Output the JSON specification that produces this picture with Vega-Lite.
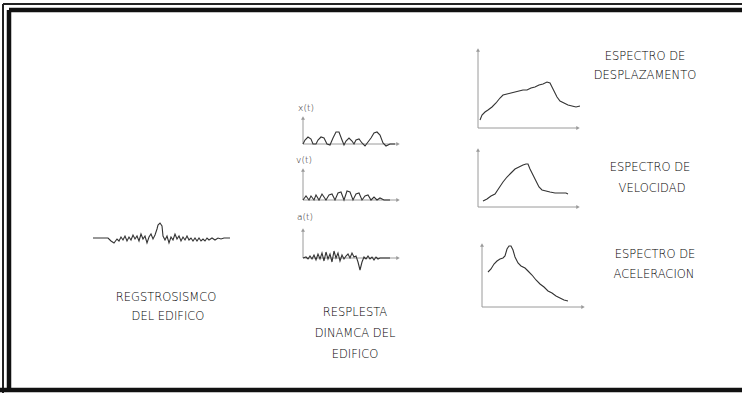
{
  "$schema": "https://vega.github.io/schema/vega-lite/v6.json",
  "width": 742,
  "height": 393,
  "autosize": "none",
  "padding": 0,
  "background": "white",
  "config": {"view": {"stroke": null}},
  "datasets": {
    "frame_thick": [
      {"x": 9, "y": 10, "x2": 742, "y2": 10},
      {"x": 9, "y": 10, "x2": 9, "y2": 390},
      {"x": 0, "y": 390, "x2": 742, "y2": 390}
    ],
    "frame_thin": [
      {"x": 3, "y": 4, "x2": 3, "y2": 393},
      {"x": 3, "y": 4, "x2": 742, "y2": 4}
    ],
    "axes": [
      {"x": 303, "y": 118, "x2": 303, "y2": 144},
      {"x": 303, "y": 144, "x2": 398, "y2": 144},
      {"x": 303, "y": 170, "x2": 303, "y2": 200},
      {"x": 303, "y": 200, "x2": 398, "y2": 200},
      {"x": 303, "y": 230, "x2": 303, "y2": 258},
      {"x": 303, "y": 258, "x2": 398, "y2": 258},
      {"x": 478, "y": 50, "x2": 478, "y2": 128},
      {"x": 478, "y": 128, "x2": 578, "y2": 128},
      {"x": 478, "y": 150, "x2": 478, "y2": 207},
      {"x": 478, "y": 207, "x2": 578, "y2": 207},
      {"x": 482, "y": 245, "x2": 482, "y2": 307},
      {"x": 482, "y": 307, "x2": 583, "y2": 307}
    ],
    "arrows": [
      {"x": 303, "y": 118, "dir": "up"}, {"x": 398, "y": 144, "dir": "right"},
      {"x": 303, "y": 170, "dir": "up"}, {"x": 398, "y": 200, "dir": "right"},
      {"x": 303, "y": 230, "dir": "up"}, {"x": 398, "y": 258, "dir": "right"},
      {"x": 478, "y": 50, "dir": "up"}, {"x": 578, "y": 128, "dir": "right"},
      {"x": 478, "y": 150, "dir": "up"}, {"x": 578, "y": 207, "dir": "right"},
      {"x": 482, "y": 245, "dir": "up"}, {"x": 583, "y": 307, "dir": "right"}
    ],
    "curves": [
      {"id": "s", "o": 1, "x": 93, "y": 238}, {"id": "s", "o": 2, "x": 108, "y": 238}, {"id": "s", "o": 3, "x": 111, "y": 241}, {"id": "s", "o": 4, "x": 114, "y": 243}, {"id": "s", "o": 5, "x": 117, "y": 239}, {"id": "s", "o": 6, "x": 119, "y": 241}, {"id": "s", "o": 7, "x": 121, "y": 237}, {"id": "s", "o": 8, "x": 123, "y": 240}, {"id": "s", "o": 9, "x": 125, "y": 236}, {"id": "s", "o": 10, "x": 127, "y": 241}, {"id": "s", "o": 11, "x": 129, "y": 237}, {"id": "s", "o": 12, "x": 131, "y": 240}, {"id": "s", "o": 13, "x": 133, "y": 235}, {"id": "s", "o": 14, "x": 135, "y": 239}, {"id": "s", "o": 15, "x": 137, "y": 236}, {"id": "s", "o": 16, "x": 139, "y": 241}, {"id": "s", "o": 17, "x": 141, "y": 234}, {"id": "s", "o": 18, "x": 143, "y": 239}, {"id": "s", "o": 19, "x": 145, "y": 236}, {"id": "s", "o": 20, "x": 147, "y": 243}, {"id": "s", "o": 21, "x": 149, "y": 237}, {"id": "s", "o": 22, "x": 151, "y": 234}, {"id": "s", "o": 23, "x": 153, "y": 239}, {"id": "s", "o": 24, "x": 155, "y": 235}, {"id": "s", "o": 25, "x": 157, "y": 229}, {"id": "s", "o": 26, "x": 158, "y": 225}, {"id": "s", "o": 27, "x": 160, "y": 223}, {"id": "s", "o": 28, "x": 162, "y": 226}, {"id": "s", "o": 29, "x": 163, "y": 236}, {"id": "s", "o": 30, "x": 165, "y": 240}, {"id": "s", "o": 31, "x": 167, "y": 236}, {"id": "s", "o": 32, "x": 169, "y": 243}, {"id": "s", "o": 33, "x": 171, "y": 237}, {"id": "s", "o": 34, "x": 173, "y": 240}, {"id": "s", "o": 35, "x": 175, "y": 234}, {"id": "s", "o": 36, "x": 177, "y": 239}, {"id": "s", "o": 37, "x": 179, "y": 236}, {"id": "s", "o": 38, "x": 181, "y": 241}, {"id": "s", "o": 39, "x": 183, "y": 237}, {"id": "s", "o": 40, "x": 185, "y": 240}, {"id": "s", "o": 41, "x": 187, "y": 236}, {"id": "s", "o": 42, "x": 189, "y": 240}, {"id": "s", "o": 43, "x": 191, "y": 238}, {"id": "s", "o": 44, "x": 193, "y": 241}, {"id": "s", "o": 45, "x": 195, "y": 238}, {"id": "s", "o": 46, "x": 197, "y": 241}, {"id": "s", "o": 47, "x": 199, "y": 238}, {"id": "s", "o": 48, "x": 201, "y": 241}, {"id": "s", "o": 49, "x": 203, "y": 239}, {"id": "s", "o": 50, "x": 205, "y": 241}, {"id": "s", "o": 51, "x": 207, "y": 238}, {"id": "s", "o": 52, "x": 209, "y": 240}, {"id": "s", "o": 53, "x": 212, "y": 238}, {"id": "s", "o": 54, "x": 215, "y": 240}, {"id": "s", "o": 55, "x": 218, "y": 238}, {"id": "s", "o": 56, "x": 221, "y": 239}, {"id": "s", "o": 57, "x": 224, "y": 238}, {"id": "s", "o": 58, "x": 230, "y": 238},

      {"id": "r1", "o": 1, "x": 303, "y": 144}, {"id": "r1", "o": 2, "x": 305, "y": 140}, {"id": "r1", "o": 3, "x": 308, "y": 137}, {"id": "r1", "o": 4, "x": 311, "y": 139}, {"id": "r1", "o": 5, "x": 313, "y": 144}, {"id": "r1", "o": 6, "x": 316, "y": 144}, {"id": "r1", "o": 7, "x": 318, "y": 140}, {"id": "r1", "o": 8, "x": 321, "y": 137}, {"id": "r1", "o": 9, "x": 324, "y": 138}, {"id": "r1", "o": 10, "x": 327, "y": 144}, {"id": "r1", "o": 11, "x": 330, "y": 145}, {"id": "r1", "o": 12, "x": 333, "y": 138}, {"id": "r1", "o": 13, "x": 336, "y": 132}, {"id": "r1", "o": 14, "x": 339, "y": 132}, {"id": "r1", "o": 15, "x": 342, "y": 140}, {"id": "r1", "o": 16, "x": 344, "y": 145}, {"id": "r1", "o": 17, "x": 346, "y": 141}, {"id": "r1", "o": 18, "x": 349, "y": 138}, {"id": "r1", "o": 19, "x": 352, "y": 141}, {"id": "r1", "o": 20, "x": 354, "y": 144}, {"id": "r1", "o": 21, "x": 356, "y": 140}, {"id": "r1", "o": 22, "x": 359, "y": 139}, {"id": "r1", "o": 23, "x": 362, "y": 143}, {"id": "r1", "o": 24, "x": 365, "y": 146}, {"id": "r1", "o": 25, "x": 368, "y": 142}, {"id": "r1", "o": 26, "x": 371, "y": 138}, {"id": "r1", "o": 27, "x": 374, "y": 133}, {"id": "r1", "o": 28, "x": 377, "y": 132}, {"id": "r1", "o": 29, "x": 380, "y": 135}, {"id": "r1", "o": 30, "x": 383, "y": 143}, {"id": "r1", "o": 31, "x": 386, "y": 146}, {"id": "r1", "o": 32, "x": 390, "y": 144}, {"id": "r1", "o": 33, "x": 395, "y": 144},

      {"id": "r2", "o": 1, "x": 303, "y": 200}, {"id": "r2", "o": 2, "x": 306, "y": 196}, {"id": "r2", "o": 3, "x": 309, "y": 200}, {"id": "r2", "o": 4, "x": 311, "y": 196}, {"id": "r2", "o": 5, "x": 314, "y": 200}, {"id": "r2", "o": 6, "x": 316, "y": 195}, {"id": "r2", "o": 7, "x": 319, "y": 200}, {"id": "r2", "o": 8, "x": 322, "y": 194}, {"id": "r2", "o": 9, "x": 326, "y": 200}, {"id": "r2", "o": 10, "x": 329, "y": 195}, {"id": "r2", "o": 11, "x": 332, "y": 194}, {"id": "r2", "o": 12, "x": 335, "y": 200}, {"id": "r2", "o": 13, "x": 338, "y": 193}, {"id": "r2", "o": 14, "x": 341, "y": 192}, {"id": "r2", "o": 15, "x": 344, "y": 200}, {"id": "r2", "o": 16, "x": 347, "y": 191}, {"id": "r2", "o": 17, "x": 350, "y": 192}, {"id": "r2", "o": 18, "x": 353, "y": 200}, {"id": "r2", "o": 19, "x": 356, "y": 194}, {"id": "r2", "o": 20, "x": 359, "y": 193}, {"id": "r2", "o": 21, "x": 362, "y": 200}, {"id": "r2", "o": 22, "x": 365, "y": 196}, {"id": "r2", "o": 23, "x": 368, "y": 195}, {"id": "r2", "o": 24, "x": 371, "y": 200}, {"id": "r2", "o": 25, "x": 374, "y": 197}, {"id": "r2", "o": 26, "x": 377, "y": 200}, {"id": "r2", "o": 27, "x": 380, "y": 198}, {"id": "r2", "o": 28, "x": 384, "y": 200}, {"id": "r2", "o": 29, "x": 390, "y": 200},

      {"id": "r3", "o": 1, "x": 303, "y": 258}, {"id": "r3", "o": 2, "x": 306, "y": 257}, {"id": "r3", "o": 3, "x": 308, "y": 259}, {"id": "r3", "o": 4, "x": 310, "y": 256}, {"id": "r3", "o": 5, "x": 312, "y": 259}, {"id": "r3", "o": 6, "x": 314, "y": 255}, {"id": "r3", "o": 7, "x": 316, "y": 260}, {"id": "r3", "o": 8, "x": 318, "y": 254}, {"id": "r3", "o": 9, "x": 320, "y": 259}, {"id": "r3", "o": 10, "x": 322, "y": 253}, {"id": "r3", "o": 11, "x": 324, "y": 261}, {"id": "r3", "o": 12, "x": 326, "y": 252}, {"id": "r3", "o": 13, "x": 328, "y": 259}, {"id": "r3", "o": 14, "x": 330, "y": 254}, {"id": "r3", "o": 15, "x": 332, "y": 262}, {"id": "r3", "o": 16, "x": 334, "y": 251}, {"id": "r3", "o": 17, "x": 336, "y": 258}, {"id": "r3", "o": 18, "x": 338, "y": 253}, {"id": "r3", "o": 19, "x": 340, "y": 261}, {"id": "r3", "o": 20, "x": 342, "y": 255}, {"id": "r3", "o": 21, "x": 344, "y": 259}, {"id": "r3", "o": 22, "x": 346, "y": 256}, {"id": "r3", "o": 23, "x": 348, "y": 254}, {"id": "r3", "o": 24, "x": 350, "y": 258}, {"id": "r3", "o": 25, "x": 352, "y": 253}, {"id": "r3", "o": 26, "x": 354, "y": 257}, {"id": "r3", "o": 27, "x": 356, "y": 256}, {"id": "r3", "o": 28, "x": 358, "y": 262}, {"id": "r3", "o": 29, "x": 360, "y": 270}, {"id": "r3", "o": 30, "x": 362, "y": 262}, {"id": "r3", "o": 31, "x": 364, "y": 257}, {"id": "r3", "o": 32, "x": 366, "y": 259}, {"id": "r3", "o": 33, "x": 368, "y": 256}, {"id": "r3", "o": 34, "x": 370, "y": 259}, {"id": "r3", "o": 35, "x": 372, "y": 257}, {"id": "r3", "o": 36, "x": 374, "y": 260}, {"id": "r3", "o": 37, "x": 376, "y": 257}, {"id": "r3", "o": 38, "x": 378, "y": 259}, {"id": "r3", "o": 39, "x": 380, "y": 258}, {"id": "r3", "o": 40, "x": 384, "y": 258}, {"id": "r3", "o": 41, "x": 390, "y": 258},

      {"id": "d", "o": 1, "x": 480, "y": 120}, {"id": "d", "o": 2, "x": 482, "y": 115}, {"id": "d", "o": 3, "x": 485, "y": 112}, {"id": "d", "o": 4, "x": 488, "y": 110}, {"id": "d", "o": 5, "x": 492, "y": 107}, {"id": "d", "o": 6, "x": 496, "y": 103}, {"id": "d", "o": 7, "x": 500, "y": 98}, {"id": "d", "o": 8, "x": 503, "y": 95}, {"id": "d", "o": 9, "x": 507, "y": 94}, {"id": "d", "o": 10, "x": 511, "y": 93}, {"id": "d", "o": 11, "x": 515, "y": 92}, {"id": "d", "o": 12, "x": 519, "y": 91}, {"id": "d", "o": 13, "x": 523, "y": 90}, {"id": "d", "o": 14, "x": 527, "y": 90}, {"id": "d", "o": 15, "x": 531, "y": 88}, {"id": "d", "o": 16, "x": 535, "y": 87}, {"id": "d", "o": 17, "x": 539, "y": 85}, {"id": "d", "o": 18, "x": 543, "y": 84}, {"id": "d", "o": 19, "x": 547, "y": 82}, {"id": "d", "o": 20, "x": 550, "y": 83}, {"id": "d", "o": 21, "x": 552, "y": 87}, {"id": "d", "o": 22, "x": 554, "y": 91}, {"id": "d", "o": 23, "x": 557, "y": 97}, {"id": "d", "o": 24, "x": 560, "y": 101}, {"id": "d", "o": 25, "x": 564, "y": 103}, {"id": "d", "o": 26, "x": 568, "y": 105}, {"id": "d", "o": 27, "x": 572, "y": 106}, {"id": "d", "o": 28, "x": 576, "y": 107}, {"id": "d", "o": 29, "x": 580, "y": 106},

      {"id": "v", "o": 1, "x": 483, "y": 201}, {"id": "v", "o": 2, "x": 487, "y": 199}, {"id": "v", "o": 3, "x": 491, "y": 196}, {"id": "v", "o": 4, "x": 495, "y": 194}, {"id": "v", "o": 5, "x": 499, "y": 188}, {"id": "v", "o": 6, "x": 503, "y": 182}, {"id": "v", "o": 7, "x": 507, "y": 177}, {"id": "v", "o": 8, "x": 511, "y": 173}, {"id": "v", "o": 9, "x": 515, "y": 169}, {"id": "v", "o": 10, "x": 519, "y": 167}, {"id": "v", "o": 11, "x": 523, "y": 165}, {"id": "v", "o": 12, "x": 526, "y": 164}, {"id": "v", "o": 13, "x": 528, "y": 164}, {"id": "v", "o": 14, "x": 530, "y": 169}, {"id": "v", "o": 15, "x": 533, "y": 175}, {"id": "v", "o": 16, "x": 536, "y": 181}, {"id": "v", "o": 17, "x": 539, "y": 187}, {"id": "v", "o": 18, "x": 542, "y": 190}, {"id": "v", "o": 19, "x": 546, "y": 191}, {"id": "v", "o": 20, "x": 550, "y": 192}, {"id": "v", "o": 21, "x": 555, "y": 193}, {"id": "v", "o": 22, "x": 560, "y": 193}, {"id": "v", "o": 23, "x": 566, "y": 193}, {"id": "v", "o": 24, "x": 568, "y": 194},

      {"id": "a", "o": 1, "x": 488, "y": 272}, {"id": "a", "o": 2, "x": 491, "y": 269}, {"id": "a", "o": 3, "x": 494, "y": 264}, {"id": "a", "o": 4, "x": 497, "y": 261}, {"id": "a", "o": 5, "x": 500, "y": 259}, {"id": "a", "o": 6, "x": 503, "y": 258}, {"id": "a", "o": 7, "x": 505, "y": 256}, {"id": "a", "o": 8, "x": 507, "y": 249}, {"id": "a", "o": 9, "x": 509, "y": 246}, {"id": "a", "o": 10, "x": 511, "y": 246}, {"id": "a", "o": 11, "x": 513, "y": 250}, {"id": "a", "o": 12, "x": 515, "y": 257}, {"id": "a", "o": 13, "x": 518, "y": 263}, {"id": "a", "o": 14, "x": 521, "y": 266}, {"id": "a", "o": 15, "x": 525, "y": 268}, {"id": "a", "o": 16, "x": 528, "y": 271}, {"id": "a", "o": 17, "x": 532, "y": 275}, {"id": "a", "o": 18, "x": 536, "y": 280}, {"id": "a", "o": 19, "x": 540, "y": 284}, {"id": "a", "o": 20, "x": 544, "y": 287}, {"id": "a", "o": 21, "x": 548, "y": 291}, {"id": "a", "o": 22, "x": 552, "y": 293}, {"id": "a", "o": 23, "x": 556, "y": 296}, {"id": "a", "o": 24, "x": 560, "y": 298}, {"id": "a", "o": 25, "x": 564, "y": 300}, {"id": "a", "o": 26, "x": 568, "y": 301}
    ],
    "labels": [
      {"text": "REGSTROSISMCO", "x": 166, "y": 298},
      {"text": "DEL EDIFICO", "x": 168, "y": 317},
      {"text": "RESPLESTA", "x": 355, "y": 313},
      {"text": "DINAMCA DEL", "x": 355, "y": 334},
      {"text": "EDIFICO", "x": 355, "y": 355},
      {"text": "ESPECTRO DE", "x": 645, "y": 57},
      {"text": "DESPLAZAMENTO", "x": 645, "y": 76},
      {"text": "ESPECTRO DE", "x": 650, "y": 168},
      {"text": "VELOCIDAD", "x": 652, "y": 189},
      {"text": "ESPECTRO DE", "x": 655, "y": 255},
      {"text": "ACELERACION", "x": 654, "y": 275}
    ],
    "small": [
      {"text": "x(t)", "x": 306, "y": 108},
      {"text": "v(t)", "x": 304, "y": 160},
      {"text": "a(t)", "x": 305, "y": 217}
    ]
  },
  "encoding": {
    "x": {"field": "x", "type": "quantitative", "scale": {"domain": [0, 742], "nice": false, "zero": false}, "axis": null},
    "y": {"field": "y", "type": "quantitative", "scale": {"domain": [0, 393], "nice": false, "zero": false, "reverse": true}, "axis": null}
  },
  "layer": [
    {
      "data": {"name": "frame_thin"},
      "mark": {"type": "rule", "color": "#222222", "strokeWidth": 2},
      "encoding": {"x2": {"field": "x2"}, "y2": {"field": "y2"}}
    },
    {
      "data": {"name": "frame_thick"},
      "mark": {"type": "rule", "color": "#111111", "strokeWidth": 4.5},
      "encoding": {"x2": {"field": "x2"}, "y2": {"field": "y2"}}
    },
    {
      "data": {"name": "axes"},
      "mark": {"type": "rule", "color": "#9a9a9a", "strokeWidth": 1},
      "encoding": {"x2": {"field": "x2"}, "y2": {"field": "y2"}}
    },
    {
      "data": {"name": "arrows"},
      "mark": {"type": "point", "filled": true, "color": "#9a9a9a", "size": 16, "opacity": 1},
      "encoding": {
        "shape": {"field": "dir", "type": "nominal", "scale": {"domain": ["up", "right"], "range": ["triangle-up", "triangle-right"]}, "legend": null}
      }
    },
    {
      "data": {"name": "curves"},
      "mark": {"type": "line", "color": "#333333", "strokeWidth": 1.1},
      "encoding": {
        "detail": {"field": "id", "type": "nominal"},
        "order": {"field": "o", "type": "quantitative"}
      }
    },
    {
      "data": {"name": "labels"},
      "mark": {"type": "text", "font": "DejaVu Sans", "fontWeight": 200, "fontSize": 11.5, "color": "#000000", "align": "center", "baseline": "middle"},
      "encoding": {"text": {"field": "text", "type": "nominal"}}
    },
    {
      "data": {"name": "small"},
      "mark": {"type": "text", "font": "DejaVu Sans", "fontWeight": 200, "fontSize": 9, "color": "#222222", "align": "center", "baseline": "middle"},
      "encoding": {"text": {"field": "text", "type": "nominal"}}
    }
  ]
}
